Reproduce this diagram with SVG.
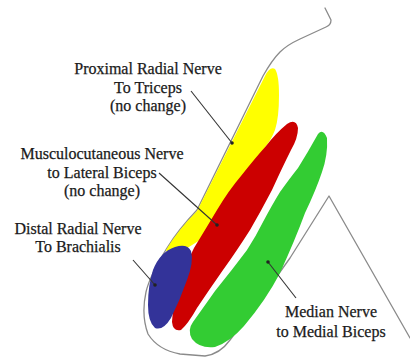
<svg xmlns="http://www.w3.org/2000/svg" width="410" height="358" viewBox="0 0 410 358">
  <style>
    .label { font-family: "Liberation Serif", "Times New Roman", serif; font-size: 16px; fill: #1a1a1a; stroke: #1a1a1a; stroke-width: 0.25; text-anchor: middle; }
    .outline { fill: none; stroke: #8a8a8a; stroke-width: 1.3; stroke-linejoin: round; stroke-linecap: round; }
    .leader { fill: none; stroke: #333; stroke-width: 1.1; marker-end: url(#dot); }
  </style>
  <defs>
    <marker id="dot" viewBox="0 0 4 4" refX="2" refY="2" markerWidth="4" markerHeight="4" markerUnits="userSpaceOnUse">
      <circle cx="2" cy="2" r="1.8" fill="#222"/>
    </marker>
  </defs>
  <rect width="410" height="358" fill="#ffffff"/>

  <!-- arm outline -->
  <g id="arm-outline">
    <path class="outline" d="M325,8 L331,20 Q331,25 326,27 L300,39 Q287,45 280,52 Q272,60 263,76 L197,210 Q178,230 167,248 Q150,275 146,292 Q141,315 148,334 Q158,350 180,354 L205,356 Q220,354 230,340 Q245,320 260,300 L290,258 L329,196 L410,338"/>
  </g>

  <!-- muscle territories -->
  <g id="triceps-yellow">
    <path fill="#ffff00" d="M265,76 Q270,66 275,69 Q279,75 279,95 Q279,118 275,130 Q271,140 266,146 L200,240 Q185,250 170,258 L166,250 Q178,230 197,211 Z"/>
  </g>
  <g id="lateral-biceps-red">
    <path fill="#cc0000" d="M287,124 Q296,118 298,128 Q298,138 291,150 Q282,168 272,190 Q261,211 250,230 Q236,252 223,270 Q209,290 197,308 Q188,324 181,330 Q173,332 172,322 Q173,300 180,280 Q186,263 194,248 Q205,230 217,210 Q229,190 241,176 Q256,157 266,146 Q276,133 287,124 Z"/>
  </g>
  <g id="medial-biceps-green">
    <path fill="#33cc33" d="M318,134 Q323,128 327,138 Q328,155 322,172 Q316,190 305,213 Q295,240 280,273 Q266,300 244,326 Q230,342 215,347 Q200,349 192,339 Q187,330 193,322 Q203,308 215,291 Q232,270 247,250 Q256,236 263,222 Q272,205 280,192 Q290,178 298,168 Q308,152 318,134 Z"/>
  </g>
  <g id="brachialis-blue">
    <path fill="#333399" d="M175,247 Q187,243 191,251 Q194,262 187,280 Q180,300 171,318 Q163,331 155,328 Q148,322 148,305 Q148,285 153,270 Q160,252 175,247 Z"/>
  </g>

  <!-- labels -->
  <g id="label-proximal-radial">
    <text class="label" x="148" y="74">Proximal Radial Nerve</text>
    <text class="label" x="148" y="93">To Triceps</text>
    <text class="label" x="148" y="111">(no change)</text>
  </g>
  <g id="label-musculocutaneous">
    <text class="label" x="102" y="159">Musculocutaneous Nerve</text>
    <text class="label" x="102" y="178">to Lateral Biceps</text>
    <text class="label" x="102" y="196">(no change)</text>
  </g>
  <g id="label-distal-radial">
    <text class="label" x="78" y="234">Distal Radial Nerve</text>
    <text class="label" x="78" y="252">To Brachialis</text>
  </g>
  <g id="label-median">
    <text class="label" x="331" y="317">Median Nerve</text>
    <text class="label" x="331" y="337">to Medial Biceps</text>
  </g>

  <!-- leader lines -->
  <g id="connectors">
    <path class="leader" d="M191,91 L232,143"/>
    <path class="leader" d="M159,173 L217,225"/>
    <path class="leader" d="M133,260 L155,285"/>
    <path class="leader" d="M296,298 L268,262"/>
  </g>
</svg>
